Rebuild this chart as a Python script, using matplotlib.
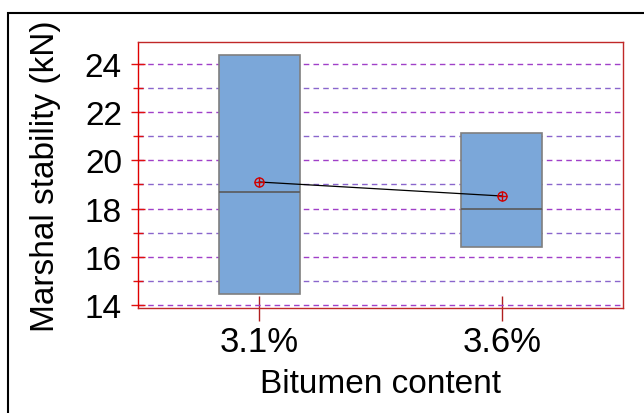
import matplotlib
matplotlib.use("Agg")
import matplotlib.pyplot as plt
from matplotlib.patches import Rectangle
from matplotlib.ticker import MultipleLocator

plt.rcParams['font.family'] = ['Liberation Sans', 'DejaVu Sans']

# data
labels = ['3.1%', '3.6%']
q1 = [14.45, 16.4]
q3 = [24.35, 21.15]
medians = [18.7, 17.98]
means = [19.1, 18.52]

positions = [1, 2]

fig = plt.figure(figsize=(6.44, 4.14), dpi=100)
ax = fig.add_axes([138/644, 1 - 309/414, 485/644, 266/414])

stats = []
for i in range(len(labels)):
    stats.append(dict(med=medians[i], q1=q1[i], q3=q3[i],
                      whislo=q1[i], whishi=q3[i], fliers=[], label=labels[i]))

ax.bxp(stats, positions=positions, widths=0.333, patch_artist=True,
       showcaps=False, showfliers=False,
       boxprops=dict(facecolor='#7ba7d9', edgecolor='#7f7f7f', linewidth=1.2),
       medianprops=dict(color='#5a5a5a', linewidth=1.2),
       whiskerprops=dict(linewidth=0), zorder=3)

# mean connect line and markers
ax.plot(positions, means, color='black', lw=0.9, zorder=4)
ax.plot(positions, means, 'o', ms=6.5, mfc='none', mec='#d00000', mew=1.0, zorder=5)
ax.plot(positions, means, '+', ms=6.5, mec='#d00000', mew=1.0, zorder=5)

ax.set_xlim(0.5, 2.5)
ax.set_ylim(13.88, 24.9)
ax.yaxis.set_major_locator(MultipleLocator(2))
ax.yaxis.set_minor_locator(MultipleLocator(1))
ax.set_xticks(positions)
ax.set_xticklabels(labels)

ax.grid(axis='y', which='major', color='#a040c8', ls=(0, (4, 3)), lw=1.0)
ax.grid(axis='y', which='minor', color='#8a66cc', ls=(0, (4, 3)), lw=1.0)
ax.set_axisbelow(True)

ax.tick_params(axis='y', which='major', direction='inout', length=9.5, width=1,
               color='#e01010', labelsize=24, pad=6.8)
ax.tick_params(axis='y', which='minor', direction='inout', length=6.5, width=1,
               color='#e01010')
ax.tick_params(axis='x', direction='inout', length=18, width=1,
               color='#b02020', labelsize=25, pad=3.6)

for side in ['top', 'right', 'bottom']:
    ax.spines[side].set_color('#c02828')
ax.spines['left'].set_color('#e00000')
for s in ax.spines.values():
    s.set_linewidth(1.0)

ax.set_ylabel('Marshal stability (kN)', fontsize=24, labelpad=17)
ax.set_xlabel('Bitumen content', fontsize=24, labelpad=7)

# outer black frame
fig.patches.append(Rectangle((8/644, -0.2), 2, 400/414 + 0.2, transform=fig.transFigure,
                             fill=False, ec='black', lw=1.5))

fig.savefig('out.png', dpi=100)
